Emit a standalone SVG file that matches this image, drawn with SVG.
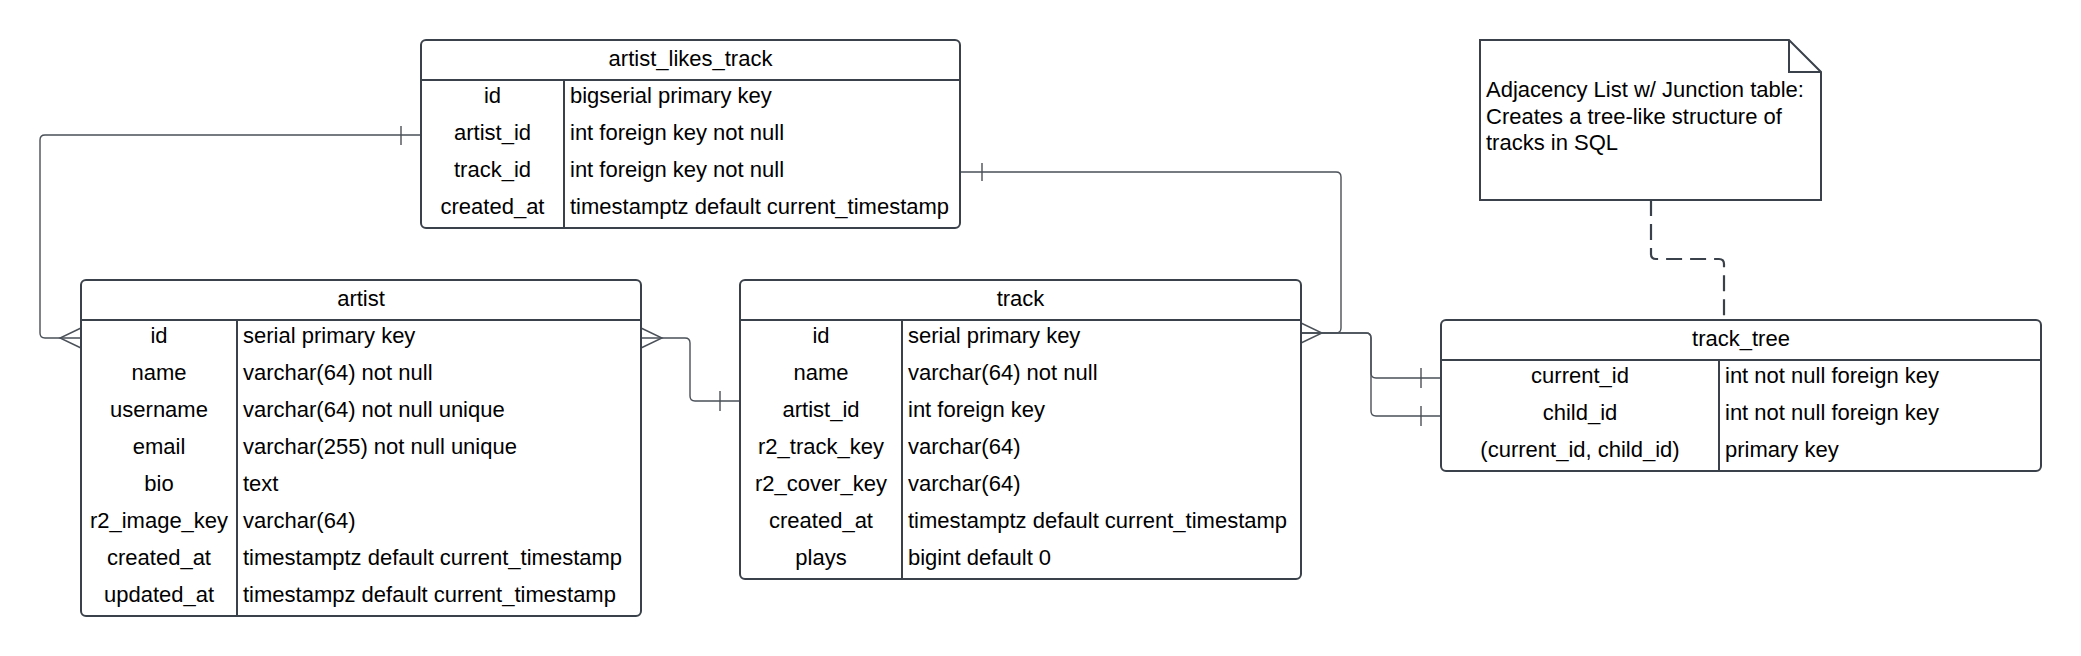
<svg xmlns="http://www.w3.org/2000/svg" width="2081" height="656" viewBox="0 0 2081 656">
<style>
.box{fill:#ffffff;stroke:#3a414a;stroke-width:2}
.ln{fill:none;stroke:#3a414a;stroke-width:2}
.t{font-family:"Liberation Sans",Arial,sans-serif;font-size:22px;fill:#000000}
.c{text-anchor:middle}
.con{fill:none;stroke:#4a5058;stroke-width:1.4}
.dash{fill:none;stroke:#3a414a;stroke-width:2.2;stroke-dasharray:16 8}
</style>
<rect x="0" y="0" width="2081" height="656" fill="#ffffff"/>

<g id="connectors">
  <path class="con" d="M421,135 H45 Q40,135 40,140 V333 Q40,338 45,338 H81"/>
  <path class="con" d="M401,126 V145"/>
  <path class="con" d="M81,328 L60,338 L81,348"/>

  <path class="con" d="M641,338 H685 Q690,338 690,343 V396 Q690,401 695,401 H740"/>
  <path class="con" d="M641,328 L662,338 L641,348"/>
  <path class="con" d="M720,391 V411"/>

  <path class="con" d="M960,172 H1336 Q1341,172 1341,177 V328 Q1341,333 1336,333 H1301"/>
  <path class="con" d="M982,163 V181"/>
  <path class="con" d="M1301,323 L1322,333 L1301,343"/>

  <path class="con" d="M1301,333 H1366 Q1371,333 1371,338 V373 Q1371,378 1376,378 H1441"/>
  <path class="con" d="M1421,368 V388"/>
  <path class="con" d="M1301,333 H1366 Q1371,333 1371,338 V411 Q1371,416 1376,416 H1441"/>
  <path class="con" d="M1421,406 V426"/>

  <path class="dash" d="M1651,200 V254 Q1651,259 1656,259 H1719 Q1724,259 1724,264 V320"/>
</g>

<g id="artist_likes_track">
  <rect class="box" x="421" y="40" width="539" height="188" rx="5"/>
  <path class="ln" d="M421,80 H960 M564,80 V228"/>
  <text class="t c" x="690.5" y="65.5">artist_likes_track</text>
  <text class="t c" x="492.5" y="103">id</text>
  <text class="t" x="570" y="103">bigserial primary key</text>
  <text class="t c" x="492.5" y="140">artist_id</text>
  <text class="t" x="570" y="140">int foreign key not null</text>
  <text class="t c" x="492.5" y="177">track_id</text>
  <text class="t" x="570" y="177">int foreign key not null</text>
  <text class="t c" x="492.5" y="214">created_at</text>
  <text class="t" x="570" y="214">timestamptz default current_timestamp</text>
</g>

<g id="artist">
  <rect class="box" x="81" y="280" width="560" height="336" rx="5"/>
  <path class="ln" d="M81,320 H641 M237,320 V616"/>
  <text class="t c" x="361" y="305.5">artist</text>
  <text class="t c" x="159" y="343">id</text>
  <text class="t" x="243" y="343">serial primary key</text>
  <text class="t c" x="159" y="380">name</text>
  <text class="t" x="243" y="380">varchar(64) not null</text>
  <text class="t c" x="159" y="417">username</text>
  <text class="t" x="243" y="417">varchar(64) not null unique</text>
  <text class="t c" x="159" y="454">email</text>
  <text class="t" x="243" y="454">varchar(255) not null unique</text>
  <text class="t c" x="159" y="491">bio</text>
  <text class="t" x="243" y="491">text</text>
  <text class="t c" x="159" y="528">r2_image_key</text>
  <text class="t" x="243" y="528">varchar(64)</text>
  <text class="t c" x="159" y="565">created_at</text>
  <text class="t" x="243" y="565">timestamptz default current_timestamp</text>
  <text class="t c" x="159" y="602">updated_at</text>
  <text class="t" x="243" y="602">timestampz default current_timestamp</text>
</g>

<g id="track">
  <rect class="box" x="740" y="280" width="561" height="299" rx="5"/>
  <path class="ln" d="M740,320 H1301 M902,320 V579"/>
  <text class="t c" x="1020.5" y="305.5">track</text>
  <text class="t c" x="821" y="343">id</text>
  <text class="t" x="908" y="343">serial primary key</text>
  <text class="t c" x="821" y="380">name</text>
  <text class="t" x="908" y="380">varchar(64) not null</text>
  <text class="t c" x="821" y="417">artist_id</text>
  <text class="t" x="908" y="417">int foreign key</text>
  <text class="t c" x="821" y="454">r2_track_key</text>
  <text class="t" x="908" y="454">varchar(64)</text>
  <text class="t c" x="821" y="491">r2_cover_key</text>
  <text class="t" x="908" y="491">varchar(64)</text>
  <text class="t c" x="821" y="528">created_at</text>
  <text class="t" x="908" y="528">timestamptz default current_timestamp</text>
  <text class="t c" x="821" y="565">plays</text>
  <text class="t" x="908" y="565">bigint default 0</text>
</g>

<g id="track_tree">
  <rect class="box" x="1441" y="320" width="600" height="151" rx="5"/>
  <path class="ln" d="M1441,360 H2041 M1719,360 V471"/>
  <text class="t c" x="1741" y="345.5">track_tree</text>
  <text class="t c" x="1580" y="383">current_id</text>
  <text class="t" x="1725" y="383">int not null foreign key</text>
  <text class="t c" x="1580" y="420">child_id</text>
  <text class="t" x="1725" y="420">int not null foreign key</text>
  <text class="t c" x="1580" y="457">(current_id, child_id)</text>
  <text class="t" x="1725" y="457">primary key</text>
</g>

<g id="note">
  <path class="box" d="M1480,40 H1789 L1821,72 V200 H1480 Z"/>
  <path class="ln" d="M1789,40 V72 H1821"/>
  <text class="t" x="1486" y="97">Adjacency List w/ Junction table:</text>
  <text class="t" x="1486" y="123.5">Creates a tree-like structure of</text>
  <text class="t" x="1486" y="150">tracks in SQL</text>
</g>
</svg>
